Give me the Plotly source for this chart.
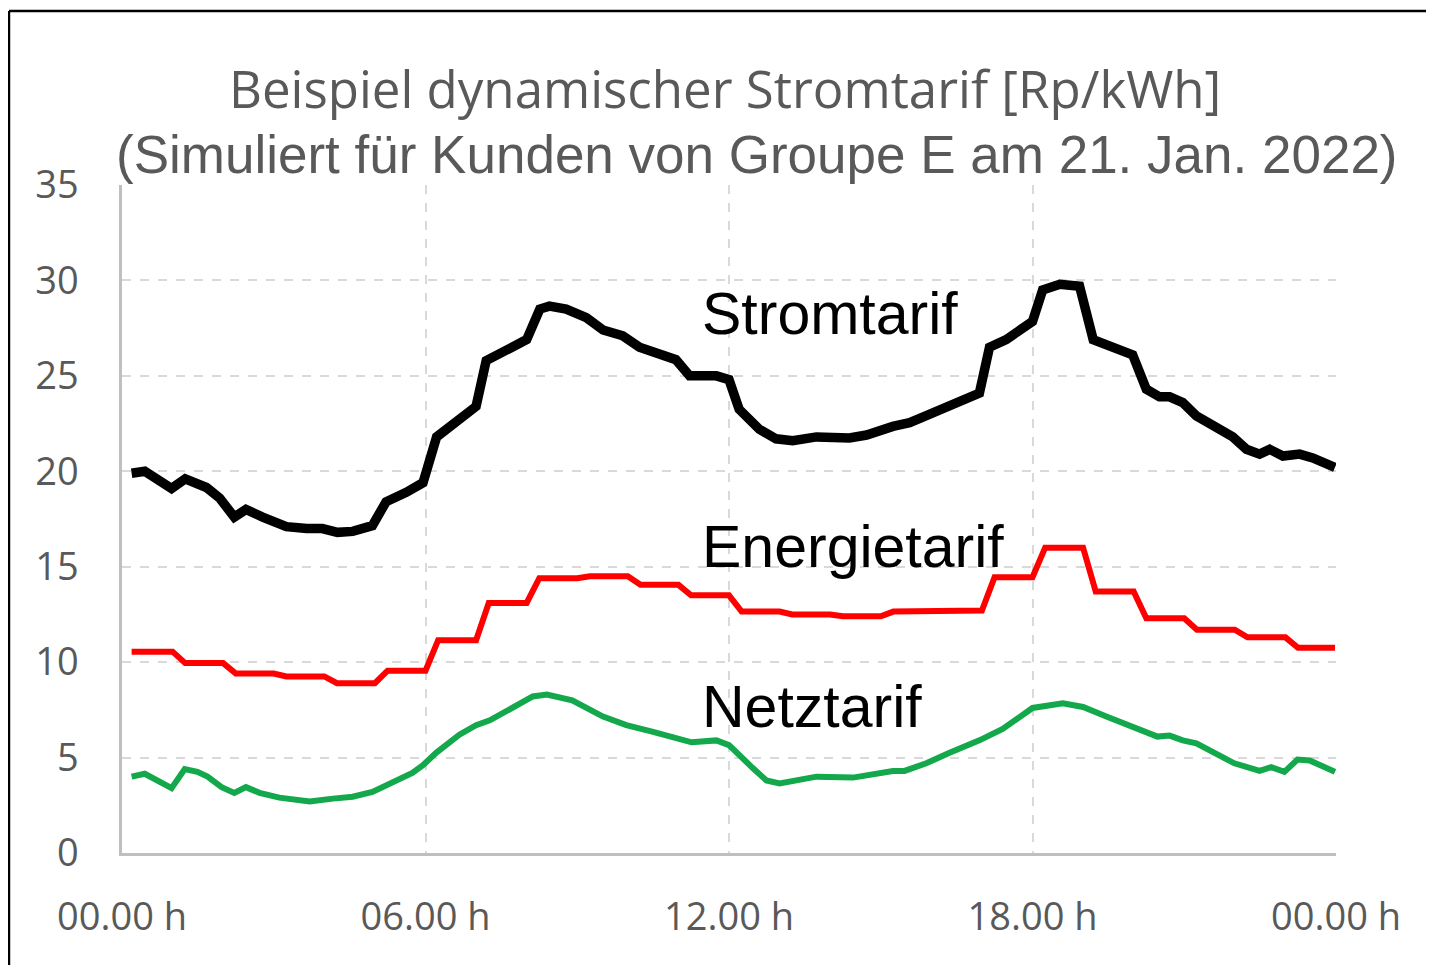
import plotly.graph_objects as go

# ---- data (hours, Rp/kWh) ----
strom_h = [0.19, 0.45, 0.98, 1.25, 1.67, 1.93, 2.22, 2.45, 2.78, 2.98, 3.25, 3.65, 3.96, 4.26, 4.56,
           4.95, 5.22, 5.62, 5.95, 6.22, 6.67, 7.0, 7.2, 7.47, 8.0, 8.26, 8.45, 8.78, 9.18, 9.51,
           9.9, 10.23, 10.95, 11.22, 11.75, 12.0, 12.2, 12.6, 12.93, 13.26, 13.73, 14.38, 14.72,
           15.24, 15.57, 15.96, 16.3, 16.95, 17.15, 17.48, 18.0, 18.2, 18.54, 18.93, 19.2, 19.98,
           20.25, 20.51, 20.71, 20.97, 21.24, 21.96, 22.23, 22.49, 22.69, 22.95, 23.28, 23.54, 23.98]
strom_v = [19.9, 20.0, 19.1, 19.6, 19.15, 18.6, 17.6, 18.0, 17.6, 17.4, 17.1, 17.0, 17.0, 16.8, 16.85,
           17.15, 18.4, 18.9, 19.4, 21.8, 22.7, 23.4, 25.8, 26.2, 26.9, 28.5, 28.65, 28.5, 28.05, 27.4,
           27.1, 26.5, 25.85, 25.0, 25.0, 24.8, 23.25, 22.2, 21.7, 21.6, 21.8, 21.75, 21.9,
           22.35, 22.55, 22.98, 23.4, 24.1, 26.5, 26.9, 27.85, 29.5, 29.8, 29.7, 26.9, 26.1,
           24.3, 23.9, 23.9, 23.6, 22.9, 21.8, 21.15, 20.9, 21.15, 20.8, 20.9, 20.7, 20.2]

energie_h = [0.19, 1.0, 1.25, 2.0, 2.25, 3.0, 3.25, 4.0, 4.25, 5.0, 5.25, 6.0, 6.25, 7.0, 7.25, 8.0,
             8.25, 9.0, 9.25, 10.0, 10.25, 11.0, 11.25, 12.0, 12.25, 13.0, 13.25, 14.0, 14.25, 15.0,
             15.25, 16.0, 16.25, 17.0, 17.25, 18.0, 18.25, 19.0, 19.25, 20.0, 20.25, 21.0, 21.25,
             22.0, 22.25, 23.0, 23.25, 23.98]
energie_v = [10.55, 10.55, 9.95, 9.95, 9.4, 9.4, 9.25, 9.25, 8.9, 8.9, 9.55, 9.55, 11.15, 11.15, 13.1, 13.1,
             14.4, 14.4, 14.5, 14.5, 14.05, 14.05, 13.5, 13.5, 12.65, 12.65, 12.5, 12.5, 12.4, 12.4,
             12.65, 12.7, 12.7, 12.7, 14.45, 14.45, 16.0, 16.0, 13.7, 13.7, 12.3, 12.3, 11.7,
             11.7, 11.3, 11.3, 10.75, 10.75]

netz_h = [0.19, 0.45, 0.98, 1.24, 1.49, 1.69, 1.97, 2.22, 2.45, 2.72, 3.11, 3.71, 4.17, 4.56, 4.95,
          5.29, 5.74, 5.95, 6.21, 6.67, 7.0, 7.27, 7.8, 8.12, 8.4, 8.9, 9.51, 9.97, 10.5, 11.26,
          11.75, 12.0, 12.47, 12.74, 13.0, 13.73, 14.45, 15.24, 15.47, 15.9, 16.36, 16.95, 17.41,
          18.0, 18.6, 19.0, 19.46, 19.98, 20.47, 20.71, 20.97, 21.24, 21.99, 22.49, 22.72, 22.98,
          23.24, 23.48, 23.98]
netz_v = [4.0, 4.15, 3.4, 4.4, 4.25, 4.0, 3.45, 3.15, 3.45, 3.15, 2.9, 2.7, 2.85, 2.95, 3.2,
          3.65, 4.2, 4.6, 5.25, 6.2, 6.7, 6.95, 7.75, 8.2, 8.3, 8.0, 7.15, 6.7, 6.35, 5.8,
          5.9, 5.65, 4.45, 3.8, 3.65, 4.0, 3.95, 4.3, 4.3, 4.7, 5.25, 5.9, 6.5,
          7.6, 7.85, 7.65, 7.15, 6.6, 6.1, 6.15, 5.9, 5.75, 4.7, 4.3, 4.5, 4.25,
          4.9, 4.85, 4.25]

x_ticks = [0, 6, 12, 18, 24]
x_ticklabels = ["00.00 h", "06.00 h", "12.00 h", "18.00 h", "00.00 h"]
y_ticks = [0, 5, 10, 15, 20, 25, 30, 35]

series_labels = ["Stromtarif", "Energietarif", "Netztarif"]
label_pos = [(11.42, 28.25), (11.42, 16.05), (11.42, 7.63)]

title1 = "Beispiel dynamischer Stromtarif [Rp/kWh]"
title2 = "(Simuliert für Kunden von Groupe E am 21. Jan. 2022)"

gray = "#595959"
calib = "Open Sans, Lato, sans-serif"
arial = "Liberation Sans, Arial, sans-serif"

fig = go.Figure()
fig.add_trace(go.Scatter(x=netz_h, y=netz_v, mode="lines",
                         line=dict(color="#12a84b", width=6), name="Netztarif"))
fig.add_trace(go.Scatter(x=energie_h, y=energie_v, mode="lines",
                         line=dict(color="#ff0000", width=6), name="Energietarif"))
fig.add_trace(go.Scatter(x=strom_h, y=strom_v, mode="lines",
                         line=dict(color="#000000", width=9.5), name="Stromtarif"))

for txt, (lx, ly) in zip(series_labels, label_pos):
    fig.add_annotation(x=lx, y=ly, xref="x", yref="y", text=txt, showarrow=False,
                       xanchor="left", yanchor="middle",
                       font=dict(family=arial, size=59, color="#000000"))

fig.add_annotation(x=0.4967, y=1.145, xref="paper", yref="paper", text=title1,
                   showarrow=False, xanchor="center", yanchor="middle",
                   font=dict(family=calib, size=51, color=gray))
fig.add_annotation(x=0.5227, y=1.045, xref="paper", yref="paper", text=title2,
                   showarrow=False, xanchor="center", yanchor="middle",
                   font=dict(family=arial, size=53, color=gray))

# outer frame (top and left edges)
fig.add_shape(type="line", xref="paper", yref="paper", x0=-0.0931, x1=1.09, y0=1.2605, y1=1.2605,
              line=dict(color="#000000", width=2.5))
fig.add_shape(type="line", xref="paper", yref="paper", x0=-0.0931, x1=-0.0931, y0=-0.2, y1=1.2605,
              line=dict(color="#000000", width=2.5))

fig.update_xaxes(range=[0, 24], tickvals=x_ticks, ticktext=x_ticklabels,
                 showgrid=True, gridcolor="#d9d9d9", griddash="dash", gridwidth=1.5,
                 showline=True, linecolor="#bfbfbf", linewidth=2.5,
                 ticks="", ticklabelstandoff=29, zeroline=False,
                 tickfont=dict(family=calib, size=38, color=gray))
fig.update_yaxes(range=[0, 35], tickvals=y_ticks,
                 showgrid=True, gridcolor="#d9d9d9", griddash="dash", gridwidth=1.5,
                 showline=True, linecolor="#bfbfbf", linewidth=2.5,
                 ticks="", ticklabelstandoff=33, zeroline=False,
                 tickfont=dict(family=calib, size=38, color=gray))

fig.update_layout(width=1426, height=957, showlegend=False,
                  margin=dict(l=114, r=98, t=177, b=112),
                  paper_bgcolor="white", plot_bgcolor="white")

fig.write_html("out.html")
